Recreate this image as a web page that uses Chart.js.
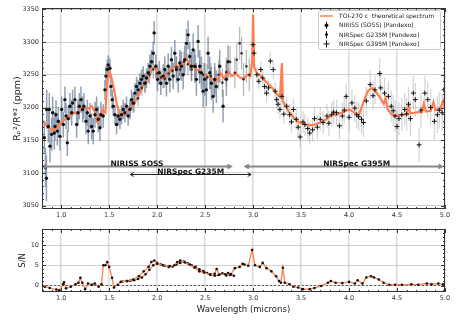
<!DOCTYPE html>
<html>
<head>
<meta charset="utf-8">
<script src="https://cdn.jsdelivr.net/npm/chart.js@4.4.1/dist/chart.umd.min.js"></script>
<style>
  html, body { margin: 0; padding: 0; background: #fff; }
  #wrap { position: relative; width: 457px; height: 320px; background: #fff; }
  canvas { position: absolute; left: 0; }
</style>
</head>
<body>
<div id="wrap">
  <canvas id="spec" width="457" height="222" style="top:0"></canvas>
  <canvas id="snr" width="457" height="98" style="top:222px"></canvas>
</div>
<script>
// ---- data ----
const xTicks = [1.0, 1.5, 2.0, 2.5, 3.0, 3.5, 4.0, 4.5, 5.0];
const depthTicks = [3050, 3100, 3150, 3200, 3250, 3300, 3350];
const snTicks = [0, 5, 10];

// theoretical spectrum
const modelWave = [0.80,0.84,0.88,0.92,0.96,1.00,1.04,1.08,1.12,1.16,1.20,1.24,1.28,1.32,1.35,1.38,1.40,1.43,1.46,1.48,
  1.50,1.52,1.55,1.58,1.61,1.65,1.70,1.75,1.80,1.85,1.90,1.95,1.98,2.02,2.06,2.10,2.15,2.20,2.25,2.30,
  2.33,2.37,2.42,2.47,2.52,2.57,2.62,2.66,2.70,2.74,2.78,2.82,2.86,2.90,2.94,2.97,2.99,3.00,3.01,3.04,
  3.07,3.10,3.13,3.16,3.20,3.24,3.28,3.30,3.31,3.34,3.38,3.42,3.46,3.50,3.55,3.60,3.65,3.70,3.75,3.80,
  3.83,3.86,3.90,3.95,4.00,4.04,4.08,4.10,4.12,4.16,4.20,4.24,4.28,4.32,4.36,4.38,4.40,4.44,4.48,4.52,
  4.56,4.60,4.62,4.64,4.68,4.72,4.76,4.78,4.80,4.85,4.88,4.90,4.95,4.98,5.00];
const modelDepth = [3180,3174,3168,3165,3170,3176,3182,3188,3192,3190,3196,3200,3198,3202,3193,3178,3188,3196,3192,3240,
  3256,3248,3228,3205,3190,3188,3196,3204,3216,3232,3245,3260,3262,3250,3244,3250,3258,3264,3262,3276,
  3268,3262,3258,3252,3248,3245,3240,3252,3244,3256,3248,3252,3246,3244,3250,3248,3270,3342,3262,3252,
  3250,3245,3240,3236,3230,3222,3216,3268,3210,3202,3192,3185,3179,3176,3174,3173,3174,3177,3181,3186,
  3192,3188,3191,3194,3197,3194,3190,3188,3196,3212,3226,3230,3224,3216,3206,3214,3198,3190,3187,3188,
  3189,3190,3202,3191,3192,3193,3193,3206,3194,3195,3208,3196,3198,3210,3199];

// NIRISS SOSS simulated points
const nirissWave = [0.824,0.836,0.846,0.849,0.866,0.876,0.883,0.901,0.911,0.928,
  0.935,0.946,0.960,0.970,0.987,1.005,1.022,1.039,1.050,1.064,
  1.074,1.091,1.109,1.119,1.143,1.161,1.175,1.189,1.206,1.223,
  1.237,1.258,1.272,1.282,1.300,1.317,1.334,1.352,1.369,1.386,
  1.404,1.414,1.438,1.456,1.466,1.480,1.490,1.508,1.518,1.532,
  1.542,1.560,1.577,1.594,1.612,1.629,1.646,1.664,1.681,1.698,
  1.716,1.733,1.750,1.768,1.785,1.802,1.820,1.837,1.855,1.872,
  1.889,1.907,1.924,1.941,1.959,1.969,1.986,2.004,2.021,2.038,
  2.063,2.080,2.097,2.115,2.132,2.149,2.167,2.184,2.201,2.219,
  2.236,2.253,2.271,2.288,2.305,2.323,2.340,2.357,2.375,2.392,
  2.409,2.427,2.444,2.461,2.479,2.496,2.513,2.531,2.548,2.565,
  2.583,2.600,2.617,2.652,2.687,2.722,2.739];
const nirissDepth = [3154,3108,3092,3197,3171,3197,3141,3159,3192,3161,
  3171,3189,3164,3179,3156,3197,3174,3212,3187,3146,
  3183,3202,3192,3207,3212,3174,3192,3202,3212,3197,
  3202,3179,3192,3164,3187,3171,3164,3189,3197,3182,
  3169,3189,3187,3227,3248,3258,3265,3260,3232,3212,
  3202,3189,3174,3187,3182,3189,3197,3192,3202,3187,
  3197,3212,3207,3222,3232,3227,3237,3243,3248,3237,
  3245,3253,3263,3270,3283,3314,3263,3243,3253,3237,
  3248,3258,3237,3263,3243,3273,3248,3283,3258,3243,
  3268,3263,3250,3273,3298,3311,3278,3263,3288,3263,
  3243,3301,3263,3253,3225,3243,3227,3283,3253,3237,
  3217,3243,3232,3263,3202,3243,3270];
const nirissErr = [25,30,35,30,25,25,25,25,25,25,
  22,22,22,22,22,20,20,20,20,20,
  20,20,20,20,20,20,20,20,20,20,
  20,20,20,20,20,20,20,20,20,20,
  20,20,18,15,15,15,15,15,15,15,
  15,15,15,15,15,15,15,15,15,15,
  15,15,15,15,15,15,15,15,15,15,
  15,15,18,18,18,18,18,18,18,18,
  18,20,20,20,20,20,20,20,20,20,
  20,22,22,22,22,22,22,22,25,25,
  25,25,25,25,25,25,25,25,25,25,
  25,25,25,25,25,25,25];

// NIRSpec G235M simulated points
const g235Wave = [1.72,1.76,1.80,1.84,1.88,1.92,1.96,2.00,2.04,2.08,2.12,2.16,2.20,2.24,2.28,2.32,2.36,
  2.40,2.44,2.48,2.52,2.56,2.60,2.64,2.68,2.72,2.76,2.81,2.83,2.86,2.88,2.90,2.93,2.96];
const g235Depth = [3198,3206,3214,3230,3238,3250,3258,3252,3246,3244,3252,3256,3262,3258,3270,3266,3258,
  3262,3254,3250,3246,3248,3242,3250,3238,3254,3270,3253,3273,3298,3283,3243,3263,3250];
const g235Err = [12,12,12,12,12,14,14,14,14,14,14,16,16,16,16,16,18,
  18,18,18,20,20,20,22,22,22,24,24,25,25,25,25,25,25];

// NIRSpec G395M simulated points
const g395Wave = [3.00,3.01,3.04,3.06,3.08,3.10,3.12,3.14,3.16,3.18,
  3.21,3.23,3.245,3.26,3.28,3.30,3.32,3.35,3.38,3.40,
  3.42,3.45,3.47,3.49,3.52,3.54,3.57,3.59,3.62,3.64,
  3.67,3.70,3.73,3.77,3.79,3.82,3.84,3.87,3.90,3.93,
  3.95,3.97,4.00,4.03,4.06,4.08,4.10,4.13,4.15,4.18,
  4.22,4.25,4.27,4.32,4.33,4.37,4.41,4.44,4.46,4.48,
  4.50,4.52,4.55,4.58,4.60,4.62,4.64,4.67,4.69,4.73,
  4.75,4.79,4.82,4.85,4.89,4.92,4.94,4.97,4.99];
const g395Depth = [3296,3283,3250,3240,3258,3245,3232,3222,3230,3271,
  3258,3225,3212,3205,3197,3217,3190,3202,3189,3178,
  3197,3182,3170,3155,3178,3174,3168,3161,3166,3183,
  3170,3182,3177,3187,3176,3189,3193,3192,3172,3187,
  3196,3217,3185,3207,3199,3189,3186,3182,3177,3210,
  3235,3218,3227,3252,3230,3222,3217,3202,3195,3187,
  3171,3183,3189,3197,3190,3205,3183,3222,3212,3143,
  3196,3222,3212,3200,3179,3189,3196,3192,3227];
const g395Err = [12,12,12,12,12,13,13,13,13,14,
  14,14,14,15,15,15,15,15,16,16,
  16,16,16,16,17,17,17,17,18,18,
  18,18,18,18,19,19,19,20,20,20,
  20,20,21,21,21,21,22,22,22,22,
  22,22,22,24,24,24,24,24,24,24,
  25,25,25,25,25,26,26,26,26,26,
  27,27,27,27,28,28,28,28,28];

// signal to noise
const snWave = [0.83,0.88,0.95,0.98,1.02,1.03,1.05,1.10,1.15,1.18,1.20,1.22,1.25,1.28,1.32,1.35,1.39,1.42,1.44,1.46,
  1.48,1.50,1.53,1.55,1.59,1.62,1.69,1.75,1.81,1.86,1.91,1.94,1.97,2.00,2.06,2.13,2.18,2.21,2.24,2.29,
  2.34,2.39,2.44,2.49,2.55,2.60,2.62,2.65,2.71,2.74,2.77,2.81,2.86,2.89,2.91,2.95,2.99,3.02,3.07,3.10,
  3.14,3.19,3.24,3.27,3.29,3.31,3.33,3.38,3.42,3.47,3.52,3.59,3.64,3.71,3.78,3.81,3.86,3.93,4.00,4.06,
  4.09,4.14,4.18,4.23,4.26,4.31,4.36,4.42,4.48,4.55,4.65,4.72,4.81,4.86,4.93,4.98];
const snValue = [-0.3,-0.6,-1.0,-1.2,0.3,0.8,-0.7,-0.3,0.3,0.7,1.9,0.7,-0.9,0.5,0.2,0.5,-0.3,0.3,5.0,5.0,
  5.8,4.6,1.9,-0.5,0.2,0.9,1.1,1.5,2.3,3.5,4.6,5.8,6.2,5.4,5.0,4.8,5.0,5.8,6.2,5.7,
  5.2,4.4,3.5,3.2,2.7,2.9,4.1,2.7,2.8,3.1,2.8,4.3,4.6,5.4,5.2,4.9,8.8,5.0,4.6,5.6,
  4.3,3.5,2.3,1.1,0.7,4.4,0.7,0.3,-0.3,-0.5,-0.9,-0.9,-0.6,-0.1,0.7,1.1,0.7,0.6,0.9,0.5,
  1.3,0.5,2.0,2.3,2.0,1.5,0.7,0.2,0.2,0.2,0.3,0.2,0.5,0.3,0.5,0.3];
// second (G235M) S/N track where the two modes overlap
const snG235Wave = [1.64,1.68,1.72,1.76,1.80,1.84,1.88,1.92,1.96,2.00,2.04,2.08,2.12,2.16,2.20,2.24,2.28,2.32,
  2.36,2.40,2.44,2.48,2.52,2.56,2.60,2.64,2.68,2.72,2.76,2.80];
const snG235Value = [1.0,1.1,1.2,1.3,1.6,2.0,2.8,3.9,5.0,5.6,5.2,4.9,4.6,4.7,5.2,5.6,5.9,5.5,
  5.0,4.6,4.0,3.6,3.1,2.7,2.4,2.6,3.0,2.5,2.6,2.4];

// instrument coverage
const instNames = ['NIRISS SOSS', 'NIRSpec G235M', 'NIRSpec G395M'];
const instStart = [0.81, 1.72, 2.92];
const instEnd = [2.77, 2.98, 4.97];
const instLevel = [3111, 3098, 3111];
const instLabelAt = [1.79, 2.35, 4.08];

const pts = (xs, ys) => xs.map((x, i) => ({x: x, y: ys[i]}));

Chart.defaults.font.family = 'DejaVu Sans';
Chart.defaults.color = '#222';

const CORAL = '#ff7f50';

// error bars, drawn under everything
const errorBars = {
  id: 'errorBars',
  beforeDatasetsDraw(chart) {
    const {ctx, chartArea: a, scales: {x, y}} = chart;
    ctx.save();
    ctx.beginPath();
    ctx.rect(a.left, a.top, a.width, a.height);
    ctx.clip();
    chart.data.datasets.forEach(ds => {
      if (!ds.errs) return;
      ctx.strokeStyle = ds.errColor;
      ctx.lineWidth = ds.errWidth;
      ctx.beginPath();
      ds.data.forEach((p, j) => {
        const px = x.getPixelForValue(p.x);
        ctx.moveTo(px, y.getPixelForValue(p.y - ds.errs[j]));
        ctx.lineTo(px, y.getPixelForValue(p.y + ds.errs[j]));
      });
      ctx.stroke();
    });
    ctx.restore();
  }
};

// box + inward ticks, matplotlib style
const frame = {
  id: 'frame',
  afterDraw(chart, args, o) {
    const {ctx, chartArea: a, scales: {x, y}} = chart;
    ctx.save();
    ctx.strokeStyle = '#333';
    ctx.lineWidth = 1;
    ctx.beginPath();
    for (let k = Math.ceil(x.min * 10 - 1e-6); k <= Math.round(x.max * 10); k++) {
      const px = Math.round(x.getPixelForValue(k / 10)) + 0.5;
      const len = k % 5 === 0 ? 4 : 2;
      ctx.moveTo(px, a.bottom); ctx.lineTo(px, a.bottom - len);
      ctx.moveTo(px, a.top); ctx.lineTo(px, a.top + len);
    }
    const n0 = Math.ceil(y.min / o.minor), n1 = Math.floor(y.max / o.minor);
    for (let k = n0; k <= n1; k++) {
      const v = k * o.minor;
      const py = Math.round(y.getPixelForValue(v)) + 0.5;
      const len = (Math.abs(v % o.major) < 1e-6) ? 4 : 2;
      ctx.moveTo(a.left, py); ctx.lineTo(a.left + len, py);
      ctx.moveTo(a.right, py); ctx.lineTo(a.right - len, py);
    }
    ctx.stroke();
    ctx.strokeRect(Math.round(a.left) + 0.5, Math.round(a.top) + 0.5,
      Math.round(a.width) - 1, Math.round(a.height) - 1);
    ctx.restore();
  }
};

// instrument coverage arrows
function arrowHead(ctx, x, y, dir, len, half) {
  ctx.moveTo(x - dir * len, y - half);
  ctx.lineTo(x, y);
  ctx.lineTo(x - dir * len, y + half);
}
const ranges = {
  id: 'ranges',
  afterDatasetsDraw(chart) {
    const {ctx, scales: {x, y}} = chart;
    ctx.save();
    instNames.forEach((name, i) => {
      const x0 = x.getPixelForValue(instStart[i]);
      const x1 = x.getPixelForValue(instEnd[i]);
      const py = Math.round(y.getPixelForValue(instLevel[i])) + 0.5;
      const mid = i === 1;
      ctx.strokeStyle = mid ? '#222' : '#888';
      ctx.lineWidth = mid ? 1 : 1.8;
      ctx.beginPath();
      ctx.moveTo(x0, py); ctx.lineTo(x1, py);
      arrowHead(ctx, x0, py, -1, 3.5, 2);
      arrowHead(ctx, x1, py, 1, 3.5, 2);
      ctx.stroke();
      ctx.fillStyle = '#111';
      ctx.font = 'bold 7.5px "DejaVu Sans"';
      ctx.textAlign = 'center';
      ctx.textBaseline = 'alphabetic';
      ctx.fillText(name, x.getPixelForValue(instLabelAt[i]), py - 0.5);
    });
    ctx.restore();
  }
};

// legend in upper right
const legendBox = {
  id: 'legendBox',
  afterDraw(chart) {
    const {ctx, chartArea: a} = chart;
    const items = chart.data.datasets.filter(d => d.label);
    const w = 122, h = 39, left = a.right - w - 5, top = a.top + 2;
    ctx.save();
    ctx.fillStyle = 'rgba(255,255,255,0.85)';
    ctx.strokeStyle = '#cccccc';
    ctx.lineWidth = 1;
    ctx.beginPath();
    ctx.roundRect(left + 0.5, top + 0.5, w, h, 2);
    ctx.fill(); ctx.stroke();
    ctx.font = '6px "DejaVu Sans"';
    ctx.textBaseline = 'middle';
    ctx.textAlign = 'left';
    items.forEach((d, i) => {
      const cy = top + 6 + i * 9.3;
      const cx = left + 8.5;
      ctx.beginPath();
      if (d.showLine) {
        ctx.strokeStyle = d.borderColor; ctx.lineWidth = 1.5;
        ctx.moveTo(left + 2, cy); ctx.lineTo(left + 15, cy); ctx.stroke();
      } else if (d.pointStyle === 'cross') {
        ctx.strokeStyle = '#111'; ctx.lineWidth = 1;
        ctx.moveTo(cx - 3, cy); ctx.lineTo(cx + 3, cy);
        ctx.moveTo(cx, cy - 3.5); ctx.lineTo(cx, cy + 3.5); ctx.stroke();
      } else {
        ctx.strokeStyle = '#111'; ctx.lineWidth = 1;
        ctx.moveTo(cx, cy - 3.5); ctx.lineTo(cx, cy + 3.5); ctx.stroke();
        ctx.beginPath(); ctx.fillStyle = '#111';
        ctx.arc(cx, cy, d.pointRadius + 0.2, 0, Math.PI * 2); ctx.fill();
      }
      ctx.fillStyle = '#222';
      ctx.fillText(d.label, left + 21, cy + 0.5);
    });
    ctx.restore();
  }
};

const tickFont = {size: 6.5};
const fixTicks = list => s => { s.ticks = list.map(v => ({value: v})); };

new Chart(document.getElementById('spec'), {
  type: 'scatter',
  data: {
    datasets: [
      {
        label: 'TOI-270 c  theoretical spectrum',
        data: pts(modelWave, modelDepth),
        showLine: true, borderColor: CORAL, borderWidth: 2.2,
        pointRadius: 0, order: 3
      },
      {
        label: 'NIRISS (SOSS) [Pandexo]',
        data: pts(nirissWave, nirissDepth),
        errs: nirissErr, errColor: 'rgba(100,120,150,0.7)', errWidth: 1.5,
        pointStyle: 'circle', pointRadius: 1.7, backgroundColor: '#111', borderWidth: 0, order: 1
      },
      {
        label: 'NIRSpec G235M [Pandexo]',
        data: pts(g235Wave, g235Depth),
        errs: g235Err, errColor: 'rgba(120,120,120,0.55)', errWidth: 1.2,
        pointStyle: 'circle', pointRadius: 1.3, backgroundColor: '#333', borderWidth: 0, order: 2
      },
      {
        label: 'NIRSpec G395M [Pandexo]',
        data: pts(g395Wave, g395Depth),
        errs: g395Err, errColor: 'rgba(170,170,170,0.5)', errWidth: 1.2,
        pointStyle: 'cross', pointRadius: 2.4, borderColor: '#111', borderWidth: 1, order: 0
      }
    ]
  },
  options: {
    responsive: false,
    animation: false,
    events: [],
    layout: {padding: {top: 8, right: 12, left: 0, bottom: 0}},
    plugins: {
      legend: {display: false},
      tooltip: {enabled: false},
      frame: {minor: 10, major: 50}
    },
    scales: {
      x: {
        type: 'linear', min: 0.8, max: 5.0,
        afterBuildTicks: fixTicks(xTicks),
        afterFit: s => { s.height = 13; },
        grid: {color: '#dcdcdc', lineWidth: 1.6, drawTicks: false},
        border: {display: false},
        ticks: {font: tickFont, color: '#333', padding: 2, maxRotation: 0, autoSkip: false,
          callback: v => v.toFixed(1)}
      },
      y: {
        min: 3045, max: 3352,
        afterBuildTicks: fixTicks(depthTicks),
        afterFit: s => { s.width = 42; },
        grid: {color: '#c4c4c4', lineWidth: 0.8, drawTicks: false},
        border: {display: false},
        ticks: {font: tickFont, color: '#333', padding: 3, autoSkip: false,
          callback: v => String(v)},
        title: {display: true, text: 'Rₚ²/R*² (ppm)', font: {size: 9.5}, color: '#222',
          padding: {top: 12, bottom: 0}}
      }
    }
  },
  plugins: [errorBars, ranges, frame, legendBox]
});

new Chart(document.getElementById('snr'), {
  type: 'scatter',
  data: {
    datasets: [
      {
        data: pts(snWave, snValue),
        showLine: true, borderColor: CORAL, borderWidth: 1.3,
        pointRadius: 1.3, pointBackgroundColor: '#111', pointBorderWidth: 0, order: 1
      },
      {
        data: pts(snG235Wave, snG235Value),
        showLine: true, borderColor: CORAL, borderWidth: 1.1,
        pointRadius: 1.3, pointBackgroundColor: '#111', pointBorderWidth: 0, order: 1
      },
      {
        data: pts([0.8, 5.0], [0, 0]),
        showLine: true, borderColor: '#444', borderWidth: 0.8, borderDash: [2, 2],
        pointRadius: 0, order: 2
      }
    ]
  },
  options: {
    responsive: false,
    animation: false,
    events: [],
    layout: {padding: {top: 3, right: 12, left: 0, bottom: 0}},
    plugins: {
      legend: {display: false},
      tooltip: {enabled: false},
      frame: {minor: 1, major: 5}
    },
    scales: {
      x: {
        type: 'linear', min: 0.8, max: 5.0,
        afterBuildTicks: fixTicks(xTicks),
        afterFit: s => { s.height = 28; },
        grid: {color: '#dcdcdc', lineWidth: 1.6, drawTicks: false},
        border: {display: false},
        ticks: {font: tickFont, color: '#333', padding: 2, maxRotation: 0, autoSkip: false,
          callback: v => v.toFixed(1)},
        title: {display: true, text: 'Wavelength (microns)', font: {size: 8.5}, color: '#222',
          padding: {top: 0, bottom: 5}}
      },
      y: {
        min: -1.6, max: 14,
        afterBuildTicks: fixTicks(snTicks),
        afterFit: s => { s.width = 42; },
        grid: {color: '#c4c4c4', lineWidth: 0.8, drawTicks: false},
        border: {display: false},
        ticks: {font: tickFont, color: '#333', padding: 3, autoSkip: false,
          callback: v => String(v)},
        title: {display: true, text: 'S/N', font: {size: 8.5}, color: '#222',
          padding: {top: 18, bottom: 0}}
      }
    }
  },
  plugins: [frame]
});
</script>
</body>
</html>
